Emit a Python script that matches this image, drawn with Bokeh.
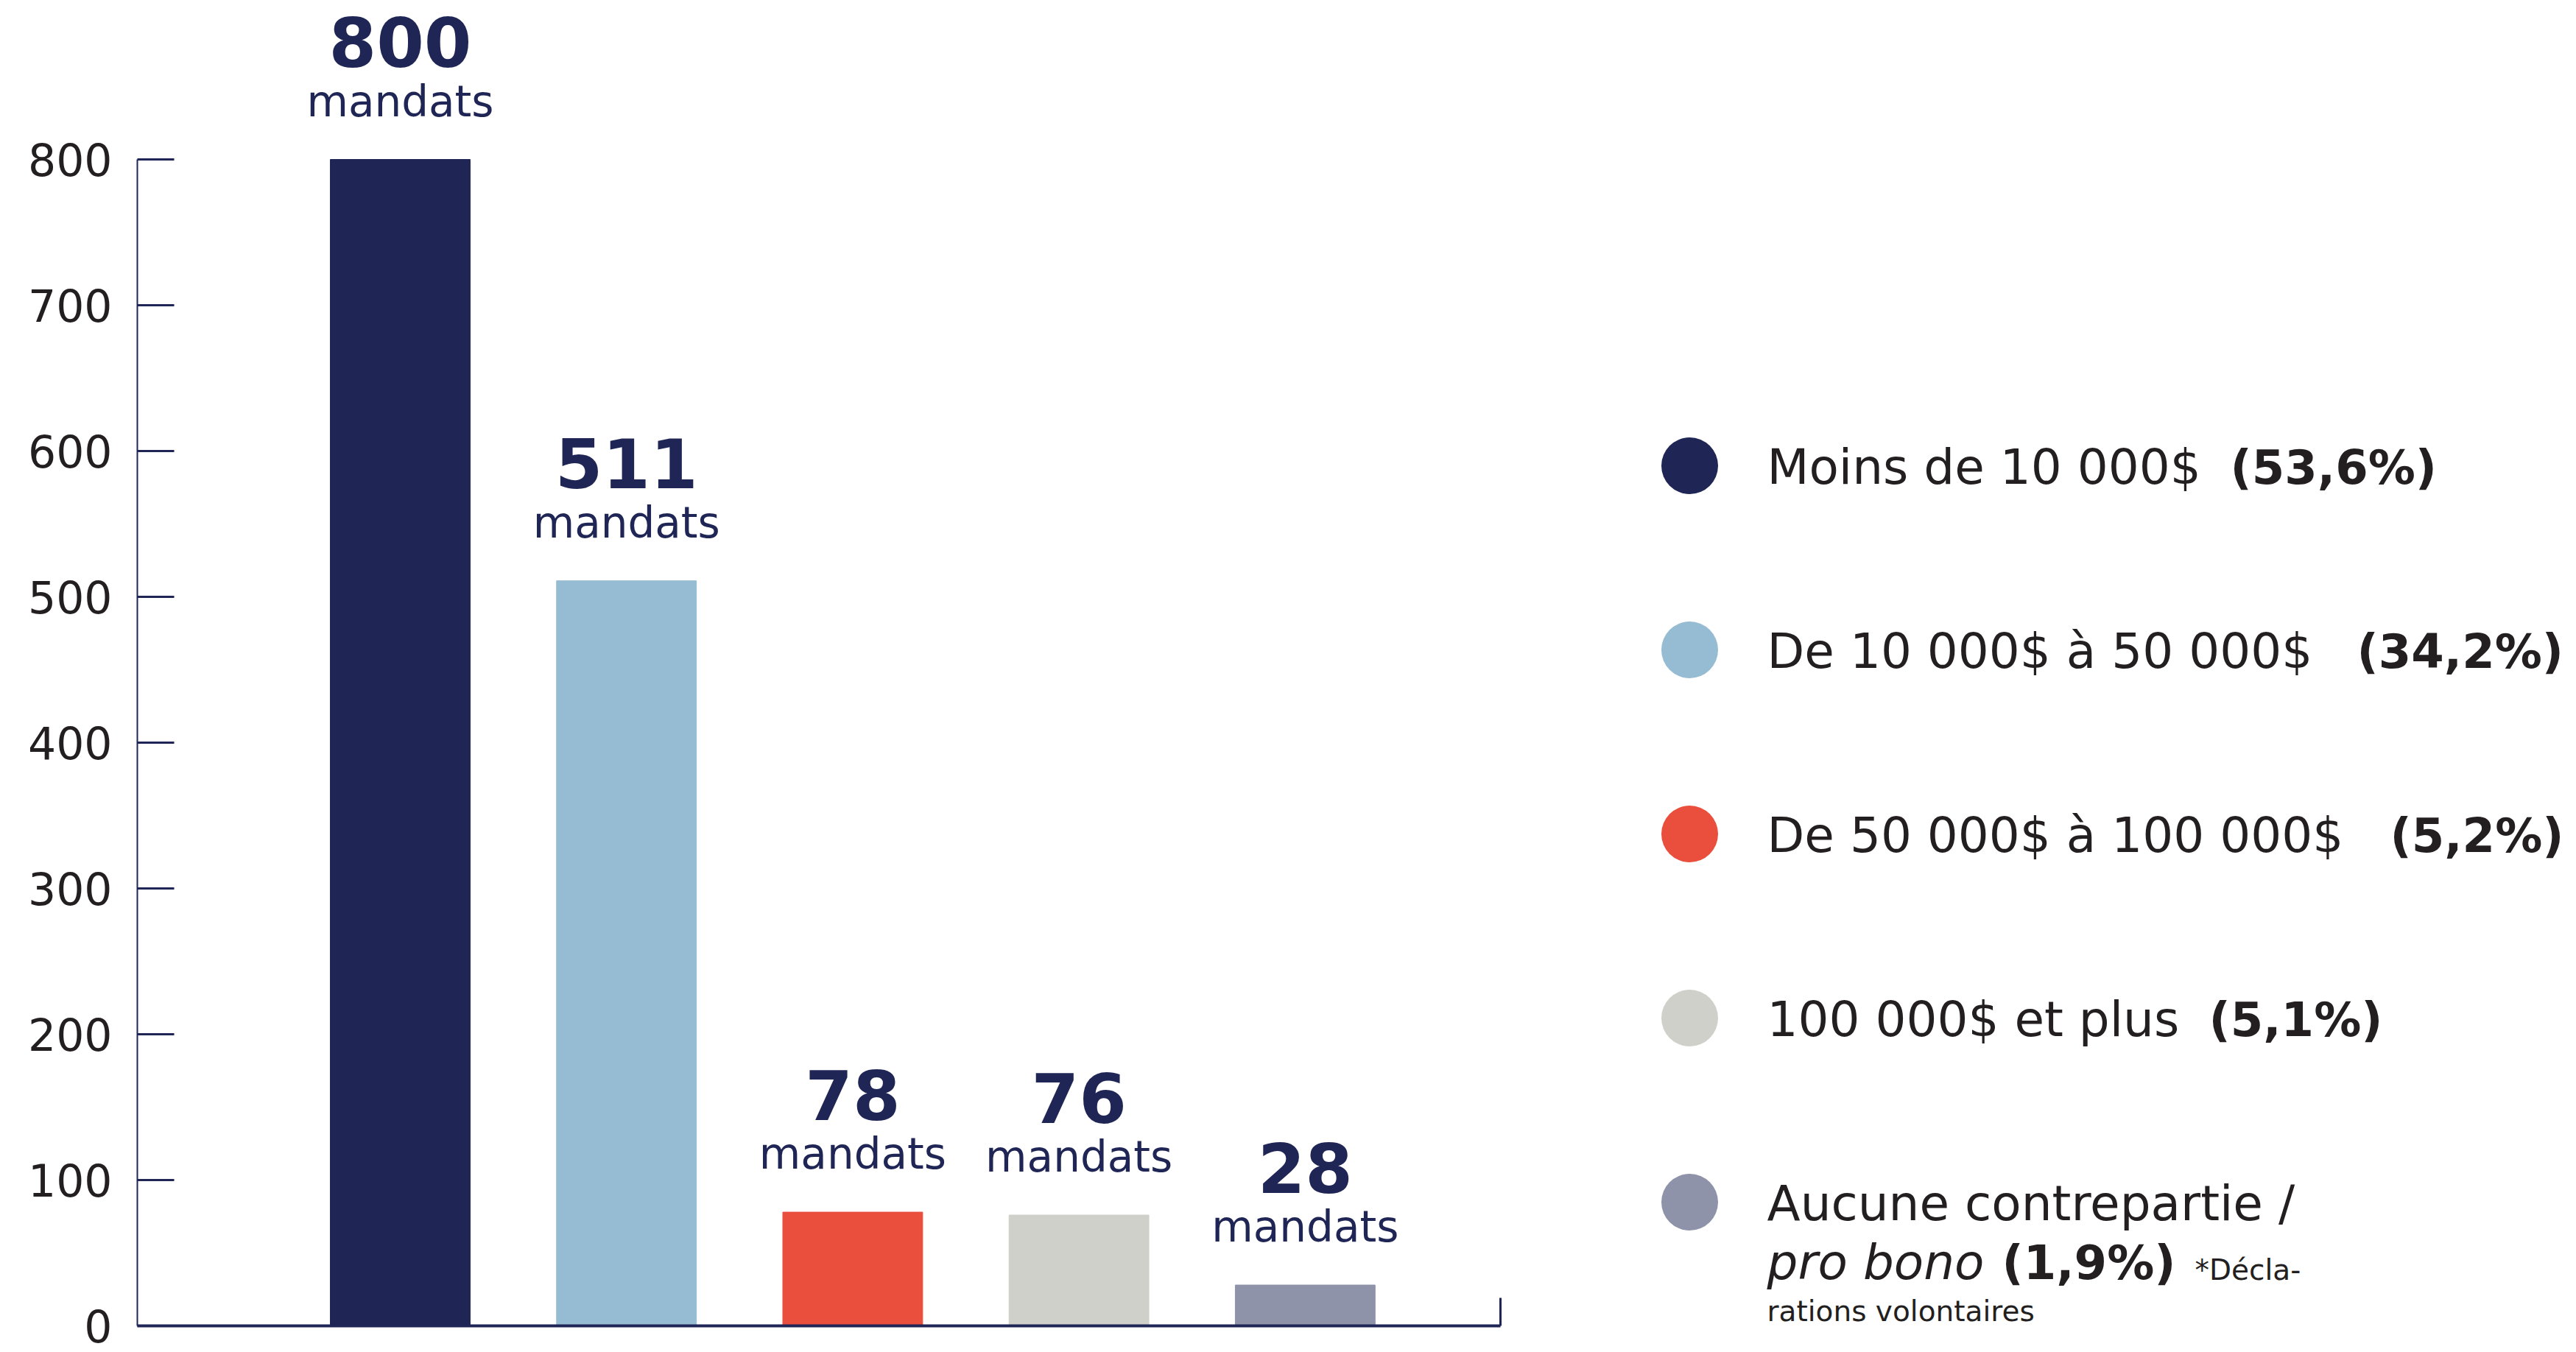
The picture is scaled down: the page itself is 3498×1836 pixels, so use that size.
from bokeh.plotting import figure
from bokeh.models import Range1d, FixedTicker, ColumnDataSource, LinearAxis
from bokeh.layouts import row
from bokeh.core.properties import value
from bokeh.embed import file_html
from bokeh.resources import INLINE

# ---------------- data ----------------
categories = ["Moins de 10 000$", "De 10 000$ à 50 000$", "De 50 000$ à 100 000$",
              "100 000$ et plus", "Aucune contrepartie /"]
values = [800, 511, 78, 76, 28]
percents = ["(53,6%)", "(34,2%)", "(5,2%)", "(5,1%)", "(1,9%)"]
colors = ["#1f2554", "#96bcd3", "#ea4f3e", "#d0d0cb", "#8f93a9"]
y_ticks = [0, 100, 200, 300, 400, 500, 600, 700, 800]
unit_label = "mandats"
italic_part = "pro bono"
note_lines = ["*Décla-", "rations volontaires"]

FONT = "DejaVu Sans"
NAVY = "#1f2554"
TXT = "#231f20"
BASE_FIX = 0.36  # empirical em shift for alphabetic baseline


def off(fs, extra):
    return extra - BASE_FIX * fs

# ---------------- chart ----------------
W1, H = 2200, 1836
BOTTOM = 36
idx = list(range(len(values)))
p = figure(width=W1, height=H, output_backend="svg", toolbar_location=None,
           x_range=Range1d(-1.162, 4.863), y_range=Range1d(0, 909.1),
           min_border_left=186, min_border_right=163, min_border_top=0,
           min_border_bottom=BOTTOM)
p.outline_line_color = None
p.grid.visible = False
p.background_fill_color = "white"

src = ColumnDataSource(dict(x=idx, top=values, color=colors,
                            num=[str(v) for v in values],
                            unit=[unit_label] * len(values)))
p.vbar(x="x", top="top", width=0.618, color="color", source=src)

p.text(x="x", y="top", text="num", source=src, text_align="center",
       text_baseline="alphabetic", y_offset=off(93, -126), text_color=NAVY,
       text_font=value(FONT), text_font_style="bold", text_font_size="93px")
p.text(x="x", y="top", text="unit", source=src, text_align="center",
       text_baseline="alphabetic", y_offset=off(58, -58), text_color=NAVY,
       text_font=value(FONT), text_font_size="58px")

ya = p.yaxis[0]
ya.ticker = FixedTicker(ticks=y_ticks)
ya.bounds = (0, 800)
ya.axis_line_color = NAVY
ya.axis_line_width = 2
ya.major_tick_line_color = NAVY
ya.major_tick_line_width = 3
ya.major_tick_in = 50
ya.major_tick_out = 0
ya.minor_tick_line_color = None
ya.major_label_standoff = 34
ya.major_label_text_font = FONT
ya.major_label_text_font_size = "60px"
ya.major_label_text_color = TXT

xa = p.xaxis[0]
xa.ticker = FixedTicker(ticks=[])
xa.axis_line_color = NAVY
xa.axis_line_width = 4
xa.major_tick_line_color = None
xa.minor_tick_line_color = None

# short end mark at the right end of the baseline
ra = LinearAxis(ticker=FixedTicker(ticks=[]), bounds=(0, 19),
                axis_line_color=NAVY, axis_line_width=3,
                major_tick_line_color=None, minor_tick_line_color=None)
p.add_layout(ra, "right")

# ---------------- legend panel ----------------
W2 = 3498 - W1
q = figure(width=W2, height=H, output_backend="svg", toolbar_location=None,
           x_range=Range1d(0, W2), y_range=Range1d(H - BOTTOM, 0),
           min_border=0, min_border_bottom=BOTTOM)
q.axis.visible = False
q.grid.visible = False
q.outline_line_color = None

n = len(categories)
cy = [632 + 250 * i for i in range(n)]
q.scatter(x=[94] * n, y=cy, size=77, color=colors, line_color=None)

FS = 66
FB = 64
base = [c + 26 for c in cy]
q.text(x=[199] * n, y=base, text=categories, text_baseline="alphabetic",
       y_offset=off(FS, 0), text_color=TXT, text_font=value(FONT),
       text_font_size=f"{FS}px")

bold_x = [828, 1000, 1045, 799, 518]
bold_y = base[:4] + [base[4] + 80]
q.text(x=bold_x, y=bold_y, text=percents, text_baseline="alphabetic",
       y_offset=off(FB, 0), text_color=TXT, text_font=value(FONT),
       text_font_style="bold", text_font_size=f"{FB}px")
q.text(x=[199], y=[base[4] + 80], text=[italic_part], text_baseline="alphabetic",
       y_offset=off(FS, 0), text_color=TXT, text_font=value(FONT),
       text_font_style="italic", text_font_size=f"{FS}px")
q.text(x=[780, 199], y=[base[4] + 80, base[4] + 136], text=note_lines,
       text_baseline="alphabetic", y_offset=off(39, 0), text_color=TXT,
       text_font=value(FONT), text_font_size="39px")

layout = row(p, q, spacing=0)
open("out.html", "w").write(file_html(layout, INLINE))
